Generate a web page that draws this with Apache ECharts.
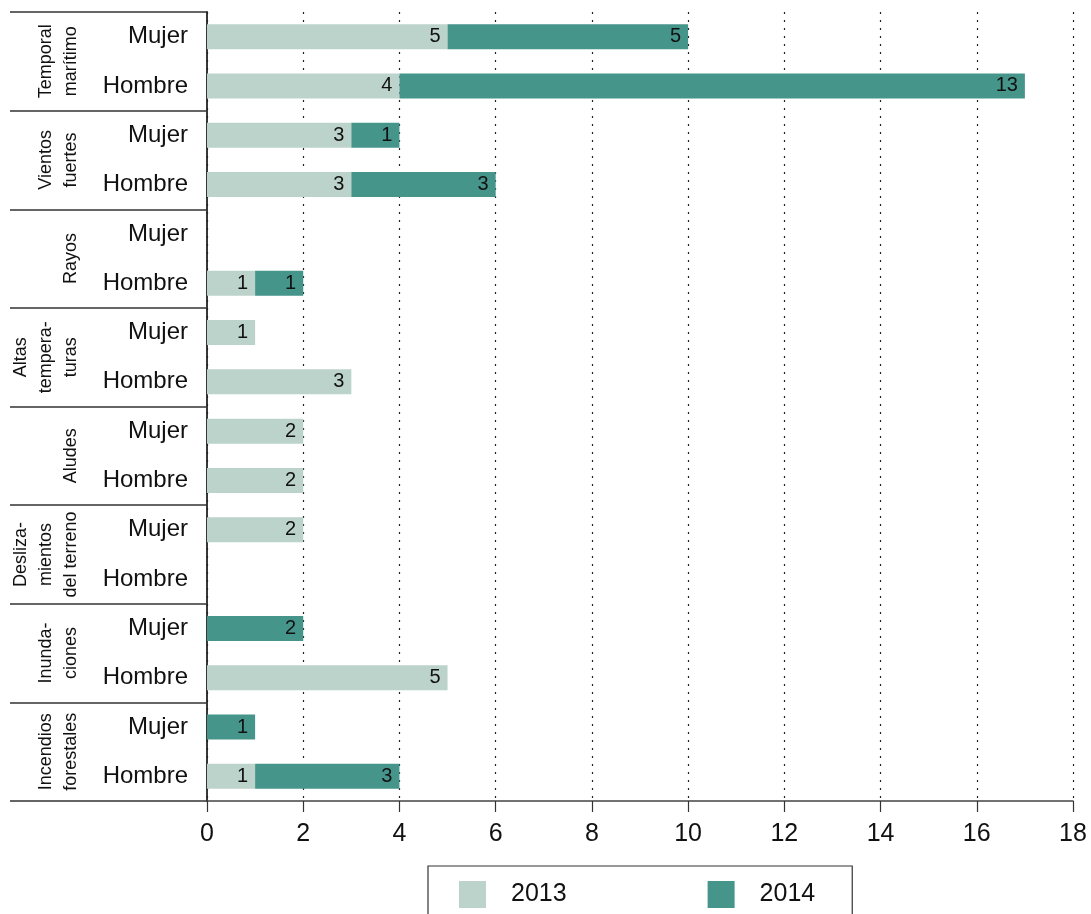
<!DOCTYPE html>
<html>
<head>
<meta charset="utf-8">
<script src="https://cdn.jsdelivr.net/npm/echarts@6/dist/echarts.min.js"></script>
<style>html,body{margin:0;padding:0;background:#fff}#c{width:1091px;height:914px}</style>
</head>
<body>
<div id="c"></div>
<script>
const groups = ['Temporal\nmarítimo', 'Vientos\nfuertes', 'Rayos', 'Altas\ntempera-\nturas', 'Aludes', 'Desliza-\nmientos\ndel terreno', 'Inunda-\nciones', 'Incendios\nforestales'];
const rows = ['Mujer', 'Hombre', 'Mujer', 'Hombre', 'Mujer', 'Hombre', 'Mujer', 'Hombre', 'Mujer', 'Hombre', 'Mujer', 'Hombre', 'Mujer', 'Hombre', 'Mujer', 'Hombre'];
const v2013 = [5, 4, 3, 3, null, 1, 1, 3, 2, 2, 2, null, null, 5, null, 1];
const v2014 = [5, 13, 1, 3, null, 1, null, null, null, null, null, null, 2, null, 1, 3];
const xTicks = [0, 2, 4, 6, 8, 10, 12, 14, 16, 18];

const FONT = "'Liberation Sans', Arial, Helvetica, sans-serif";
const chart = echarts.init(document.getElementById('c'), null, {renderer: 'canvas'});
const lbl = {
  show: true, position: 'insideRight', distance: 7, color: '#111', fontSize: 20, fontFamily: FONT,
  formatter: p => (p.value == null || p.value === 0) ? '' : String(p.value)
};
chart.setOption({
  animation: false,
  textStyle: {fontFamily: FONT},
  grid: {left: 207, right: 18, top: 12, bottom: 113, containLabel: false},
  legend: {
    left: 428, top: 866,
    padding: [15, 37, 40, 31],
    itemWidth: 27, itemHeight: 27, itemGap: 141,
    borderColor: '#333', borderWidth: 1.2,
    icon: 'rect',
    textStyle: {fontSize: 25, color: '#111', fontFamily: FONT, padding: [0, 0, 0, 20]},
    data: ['2013', '2014']
  },
  xAxis: {
    type: 'value', min: xTicks[0], max: xTicks[xTicks.length - 1], interval: 2,
    axisLine: {show: true, lineStyle: {color: '#444', width: 1.5}},
    axisTick: {show: true, length: 11, lineStyle: {color: '#333', width: 1.2}},
    axisLabel: {fontSize: 25, color: '#111', margin: 21, fontFamily: FONT},
    splitLine: {show: true, lineStyle: {color: '#222', width: 1.2, type: [2, 6]}}
  },
  yAxis: [
    {
      type: 'category', inverse: true, data: rows, position: 'left',
      axisLine: {show: true, lineStyle: {color: '#222', width: 1.8}},
      axisTick: {show: false},
      axisLabel: {interval: 0, fontSize: 24, color: '#111', margin: 19, fontFamily: FONT},
      splitLine: {show: false}
    },
    {
      type: 'category', inverse: true, data: groups, position: 'left', offset: 0,
      axisLine: {show: false},
      axisTick: {show: true, length: 197, lineStyle: {color: '#333', width: 1.5}},
      axisLabel: {
        interval: 0, rotate: 90, margin: 123, align: 'center', verticalAlign: 'bottom',
        fontSize: 18, lineHeight: 25, color: '#111', fontFamily: FONT
      },
      splitLine: {show: false}
    }
  ],
  series: [
    {name: '2013', type: 'bar', stack: 'a', data: v2013, barWidth: 25, yAxisIndex: 0,
     itemStyle: {color: '#bcd3cb'}, label: lbl},
    {name: '2014', type: 'bar', stack: 'a', data: v2014, barWidth: 25, yAxisIndex: 0,
     itemStyle: {color: '#45958b'}, label: lbl}
  ]
});
</script>
</body>
</html>
